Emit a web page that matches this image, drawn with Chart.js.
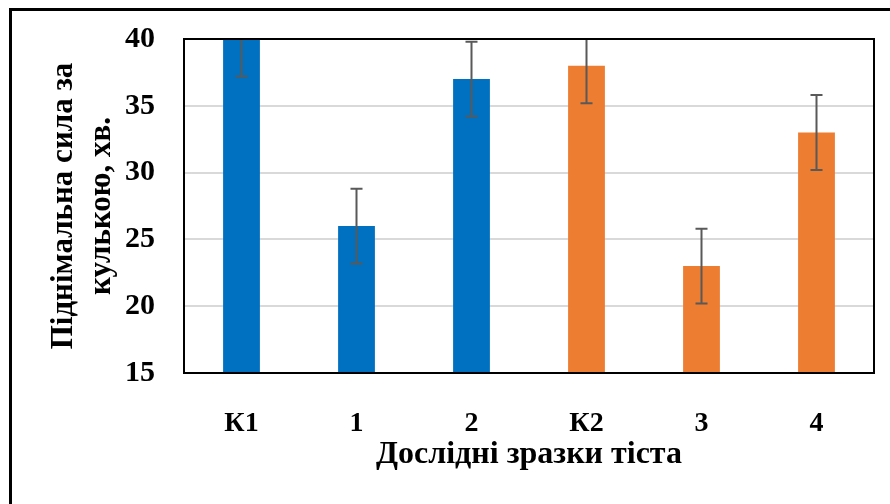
<!DOCTYPE html>
<html>
<head>
<meta charset="utf-8">
<script src="https://cdn.jsdelivr.net/npm/chart.js@4"></script>
<style>
  html, body { margin: 0; padding: 0; background: #fff; }
  #wrap { width: 890px; height: 504px; }
</style>
</head>
<body>
<div id="wrap"><canvas id="rise-chart" width="890" height="504"></canvas></div>
<script>
const labels = ['К1', '1', '2', 'К2', '3', '4'];
const values = [40, 26, 37, 38, 23, 33];
const errors = [2.8, 2.8, 2.8, 2.8, 2.8, 2.8];
const barColors = ['#0070C0', '#0070C0', '#0070C0', '#ED7D31', '#ED7D31', '#ED7D31'];
const yTicks = [15, 20, 25, 30, 35, 40];

const serif = "'Liberation Serif', 'Times New Roman', serif";

// error bars, clipped to the plot area
const errorBars = {
    id: 'errorBars',
    afterDatasetsDraw(chart) {
        const {ctx, chartArea} = chart;
        const meta = chart.getDatasetMeta(0);
        const y = chart.scales.y;
        ctx.save();
        ctx.beginPath();
        ctx.rect(chartArea.left, chartArea.top, chartArea.right - chartArea.left, chartArea.bottom - chartArea.top);
        ctx.clip();
        ctx.strokeStyle = '#595959';
        ctx.lineWidth = 2;
        meta.data.forEach((bar, i) => {
            const x = bar.x;
            const hi = y.getPixelForValue(values[i] + errors[i]);
            const lo = y.getPixelForValue(values[i] - errors[i]);
            ctx.beginPath();
            ctx.moveTo(x, hi); ctx.lineTo(x, lo);
            ctx.moveTo(x - 6, hi); ctx.lineTo(x + 6, hi);
            ctx.moveTo(x - 6, lo); ctx.lineTo(x + 6, lo);
            ctx.stroke();
        });
        ctx.restore();
    }
};

// plot border and outer frame
const frames = {
    id: 'frames',
    afterDraw(chart) {
        const {ctx, chartArea} = chart;
        ctx.save();
        ctx.strokeStyle = '#000';
        ctx.lineWidth = 2;
        ctx.strokeRect(chartArea.left, chartArea.top, chartArea.right - chartArea.left, chartArea.bottom - chartArea.top);
        ctx.lineWidth = 3;
        ctx.strokeRect(10.5, 9.5, 1000, 1000);
        ctx.restore();
    }
};

new Chart(document.getElementById('rise-chart'), {
    type: 'bar',
    data: {
        labels: labels,
        datasets: [{
            data: values,
            backgroundColor: barColors,
            borderWidth: 0,
            categoryPercentage: 1,
            barPercentage: 0.32
        }]
    },
    options: {
        responsive: false,
        animation: false,
        layout: { padding: { left: 0, top: 39, right: 16, bottom: 0 } },
        plugins: { legend: { display: false }, tooltip: { enabled: false } },
        scales: {
            x: {
                afterFit: s => { s.height = 131; },
                grid: { display: false, drawTicks: false },
                border: { display: false },
                ticks: { color: '#000', padding: 34, font: { family: serif, size: 28, weight: 'bold' } },
                title: {
                    display: true,
                    text: 'Дослідні зразки тіста',
                    color: '#000',
                    padding: { top: 0, bottom: 30 },
                    font: { family: serif, size: 32, weight: 'bold' }
                }
            },
            y: {
                min: 15,
                max: 40,
                afterFit: s => { s.width = 184; s.paddingTop = 0; s.paddingBottom = 0; },
                afterBuildTicks: s => { s.ticks = yTicks.map(v => ({ value: v })); },
                grid: { color: '#d9d9d9', lineWidth: 2, drawTicks: false },
                border: { display: false },
                ticks: { color: '#000', padding: 29, font: { family: serif, size: 30, weight: 'bold' } },
                title: {
                    display: true,
                    text: ['Піднімальна сила за', 'кулькою, хв.'],
                    color: '#000',
                    padding: { top: 45, bottom: 0 },
                    font: { family: serif, size: 31, weight: 'bold', lineHeight: 1.22 }
                }
            }
        }
    },
    plugins: [errorBars, frames]
});
</script>
</body>
</html>
